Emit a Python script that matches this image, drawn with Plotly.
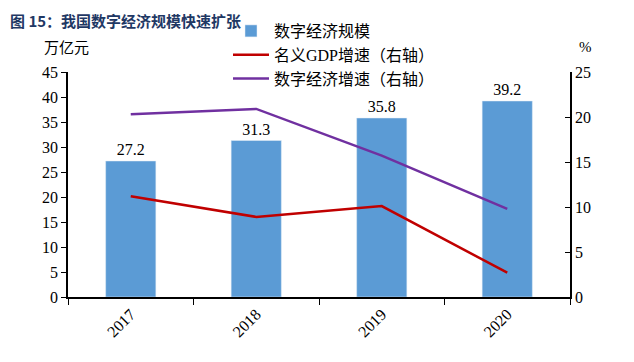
import plotly.graph_objects as go

years = ["2017", "2018", "2019", "2020"]
digital_scale = [27.2, 31.3, 35.8, 39.2]
gdp_growth = [11.2, 8.9, 10.1, 2.7]
digital_growth = [20.3, 20.9, 15.7, 9.8]
left_ticks = [0, 5, 10, 15, 20, 25, 30, 35, 40, 45]
right_ticks = [0, 5, 10, 15, 20, 25]

serif = "Times New Roman, Liberation Serif, Noto Sans CJK SC, serif"

# page body has an 8px default margin; size the figure to fill the rest of the window
W, H = 626, 354
L, R, T, B = 60, 64, 64, 65
PW, PH = W - L - R, H - T - B

fig = go.Figure()
fig.add_trace(go.Bar(
    x=years, y=digital_scale, name="数字经济规模",
    marker=dict(color="#5B9BD5"), width=0.4,
    text=[f"{v:.1f}" for v in digital_scale], textposition="outside",
    textfont=dict(family=serif, size=16, color="#000"), cliponaxis=False,
))
fig.add_trace(go.Scatter(
    x=years, y=gdp_growth, name="名义GDP增速（右轴）", yaxis="y2",
    mode="lines", line=dict(color="#C00000", width=2.5),
))
fig.add_trace(go.Scatter(
    x=years, y=digital_growth, name="数字经济增速（右轴）", yaxis="y2",
    mode="lines", line=dict(color="#7030A0", width=2.5),
))

fig.update_layout(
    width=W, height=H,
    margin=dict(l=L, r=R, t=T, b=B, pad=0, autoexpand=False),
    paper_bgcolor="white", plot_bgcolor="white",
    font=dict(family=serif, size=16, color="#000"),
    showlegend=True,
    legend=dict(x=(220 - L) / PW, y=1 + (T - 6) / PH, xanchor="left", yanchor="top",
                bgcolor="rgba(0,0,0,0)", font=dict(size=16, family=serif),
                tracegroupgap=1, itemwidth=36),
    xaxis=dict(
        showline=True, linecolor="#000", linewidth=1.5,
        ticks="outside", ticklen=6, tickcolor="#000",
        tickangle=-45, tickfont=dict(size=16, family=serif),
        tickson="boundaries",
    ),
    yaxis=dict(
        range=[0, 45], tickvals=left_ticks, showgrid=False,
        showline=True, linecolor="#000", linewidth=1.5,
        ticks="outside", ticklen=5, tickcolor="#000",
        tickfont=dict(size=16, family=serif), zeroline=False,
    ),
    yaxis2=dict(
        range=[0, 25], tickvals=right_ticks, overlaying="y", side="right",
        showgrid=False, showline=True, linecolor="#000", linewidth=1.5,
        ticks="inside", ticklen=5, tickcolor="#000",
        tickfont=dict(size=16, family=serif), zeroline=False,
    ),
    annotations=[
        dict(text="图 15：我国数字经济规模快速扩张", x=-L / PW, y=1 + T / PH, xref="paper", yref="paper",
             showarrow=False, xanchor="left", yanchor="top",
             font=dict(size=15, color="#1F3864", family="Noto Sans CJK SC, sans-serif", weight="bold")),
        dict(text="万亿元", x=0.0, y=1.0, xref="paper", yref="paper", xshift=-2, yshift=24,
             showarrow=False, xanchor="center", yanchor="middle",
             font=dict(size=15, family=serif)),
        dict(text="%", x=1.0, y=1.0, xref="paper", yref="paper", xshift=15, yshift=25,
             showarrow=False, xanchor="center", yanchor="middle",
             font=dict(size=15, family=serif)),
    ],
)

fig.write_html("out.html")
